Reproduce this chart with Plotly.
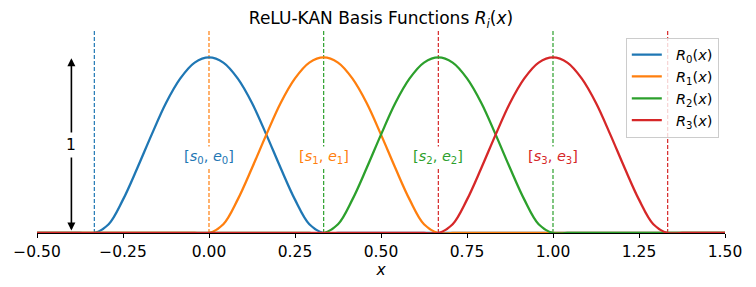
import plotly.graph_objects as go

# ---- data ----
x_grid = [-0.5, -0.4583, -0.4167, -0.375, -0.3333, -0.2917, -0.25, -0.2083, -0.1667, -0.125,
          -0.0833, -0.0417, 0.0, 0.0417, 0.0833, 0.125, 0.1667, 0.2083, 0.25, 0.2917,
          0.3333, 0.375, 0.4167, 0.4583, 0.5, 0.5417, 0.5833, 0.625, 0.6667, 0.7083,
          0.75, 0.7917, 0.8333, 0.875, 0.9167, 0.9583, 1.0, 1.0417, 1.0833, 1.125,
          1.1667, 1.2083, 1.25, 1.2917, 1.3333, 1.375, 1.4167, 1.4583, 1.5]

R0 = [0, 0, 0, 0, 0, 0.05, 0.19, 0.37, 0.56, 0.74, 0.88, 0.97, 1.0, 0.97, 0.88, 0.74, 0.56, 0.37, 0.19, 0.05,
      0, 0, 0, 0, 0, 0, 0, 0, 0, 0, 0, 0, 0, 0, 0, 0, 0, 0, 0, 0, 0, 0, 0, 0, 0, 0, 0, 0, 0]
R1 = [0, 0, 0, 0, 0, 0, 0, 0, 0, 0, 0, 0, 0, 0.05, 0.19, 0.37, 0.56, 0.74, 0.88, 0.97, 1.0, 0.97, 0.88, 0.74,
      0.56, 0.37, 0.19, 0.05, 0, 0, 0, 0, 0, 0, 0, 0, 0, 0, 0, 0, 0, 0, 0, 0, 0, 0, 0, 0, 0]
R2 = [0, 0, 0, 0, 0, 0, 0, 0, 0, 0, 0, 0, 0, 0, 0, 0, 0, 0, 0, 0, 0, 0.05, 0.19, 0.37, 0.56, 0.74, 0.88, 0.97,
      1.0, 0.97, 0.88, 0.74, 0.56, 0.37, 0.19, 0.05, 0, 0, 0, 0, 0, 0, 0, 0, 0, 0, 0, 0, 0]
R3 = [0, 0, 0, 0, 0, 0, 0, 0, 0, 0, 0, 0, 0, 0, 0, 0, 0, 0, 0, 0, 0, 0, 0, 0, 0, 0, 0, 0, 0, 0.05, 0.19, 0.37,
      0.56, 0.74, 0.88, 0.97, 1.0, 0.97, 0.88, 0.74, 0.56, 0.37, 0.19, 0.05, 0, 0, 0, 0, 0]

series = [R0, R1, R2, R3]
series_names = ["\u00a0\u00a0<i>R</i><sub>0</sub>(<i>x</i>)", "\u00a0\u00a0<i>R</i><sub>1</sub>(<i>x</i>)",
                "\u00a0\u00a0<i>R</i><sub>2</sub>(<i>x</i>)", "\u00a0\u00a0<i>R</i><sub>3</sub>(<i>x</i>)"]
starts = [-0.3333, 0.0, 0.3333, 0.6667]
ends = [0.3333, 0.6667, 1.0, 1.3333]
interval_labels = ["[<i>s</i><sub>0</sub>, <i>e</i><sub>0</sub>]",
                   "[<i>s</i><sub>1</sub>, <i>e</i><sub>1</sub>]",
                   "[<i>s</i><sub>2</sub>, <i>e</i><sub>2</sub>]",
                   "[<i>s</i><sub>3</sub>, <i>e</i><sub>3</sub>]"]
label_y = 0.43
arrow_x = -0.4
arrow_span = [0, 1]
arrow_label = "1"
tick_vals = [-0.5, -0.25, 0.0, 0.25, 0.5, 0.75, 1.0, 1.25, 1.5]
tick_text = ["\u22120.50", "\u22120.25", "0.00", "0.25", "0.50", "0.75", "1.00", "1.25", "1.50"]

colors = ["#1f77b4", "#ff7f0e", "#2ca02c", "#d62728"]
FONT = "DejaVu Sans"

fig = go.Figure()
for vals, name, c in zip(series, series_names, colors):
    fig.add_trace(go.Scatter(x=x_grid, y=vals, mode="lines", name=name,
                             line=dict(color=c, width=2.3, shape="spline", smoothing=1)))

# boundary lines: later-drawn boundaries cover earlier ones at the same position
boundary_color = {}
for s, e, c in zip(starts, ends, colors):
    for xv in (s, e):
        boundary_color[round(xv, 3)] = (xv, c)
shapes = []
for key, (xv, c) in boundary_color.items():
    shapes.append(dict(type="line", xref="x", yref="paper", x0=xv, x1=xv, y0=0, y1=1,
                       line=dict(color=c, width=1.2, dash="4px,2px"), opacity=1, layer="below"))

annotations = []
for s, e, lab, c in zip(starts, ends, interval_labels, colors):
    annotations.append(dict(x=(s + e) / 2, y=label_y, xref="x", yref="y", text=lab, showarrow=False,
                            font=dict(family=FONT, size=14.5, color=c), bgcolor="white",
                            xanchor="center", yanchor="middle", borderpad=1))

annotations.append(dict(x=arrow_x, y=arrow_span[1], ax=arrow_x, ay=arrow_span[0], xref="x", yref="y",
                        axref="x", ayref="y", text="", showarrow=True, arrowhead=2, startarrowhead=2,
                        arrowside="end+start", arrowsize=1, arrowwidth=1.6, arrowcolor="black",
                        standoff=1, startstandoff=1))
annotations.append(dict(x=arrow_x, y=(arrow_span[0] + arrow_span[1]) / 2, xref="x", yref="y",
                        text=arrow_label, showarrow=False, bgcolor="white",
                        font=dict(family=FONT, size=15.5, color="black"), borderpad=3))

fig.update_layout(
    width=756, height=287,
    margin=dict(l=37, r=31, t=31, b=54, autoexpand=False),
    paper_bgcolor="white", plot_bgcolor="white",
    font=dict(family=FONT, size=15, color="black"),
    title=dict(text="ReLU-KAN Basis Functions <i>R</i><sub><i>i</i></sub>(<i>x</i>)",
               x=(37 + 344) / 756, xanchor="center", y=1 - 18 / 287, yanchor="middle",
               yref="container", font=dict(family=FONT, size=17, color="black")),
    xaxis=dict(range=[-0.5, 1.5], tickvals=tick_vals, ticktext=tick_text, showgrid=False,
               zeroline=False, showline=True, linecolor="black", linewidth=1, automargin=False,
               ticks="outside", ticklen=4, tickwidth=1, tickcolor="black",
               tickfont=dict(family=FONT, size=15.5, color="black"), layer="below traces",
               title=dict(text="<i>x</i>", font=dict(family=FONT, size=15.5, color="black"), standoff=3)),
    yaxis=dict(range=[0, 1.15], visible=False, showgrid=False, zeroline=False, automargin=False),
    shapes=shapes,
    annotations=annotations,
    legend=dict(x=0.991, xanchor="right", y=0.967, yanchor="top", bgcolor="rgba(255,255,255,0.8)",
                bordercolor="#cccccc", borderwidth=1, font=dict(family=FONT, size=14.5, color="black"),
                itemwidth=30),
    showlegend=True,
)

fig.write_html("out.html", config={"displayModeBar": False},
               post_script="document.body.style.margin='0';document.body.style.padding='0';")
